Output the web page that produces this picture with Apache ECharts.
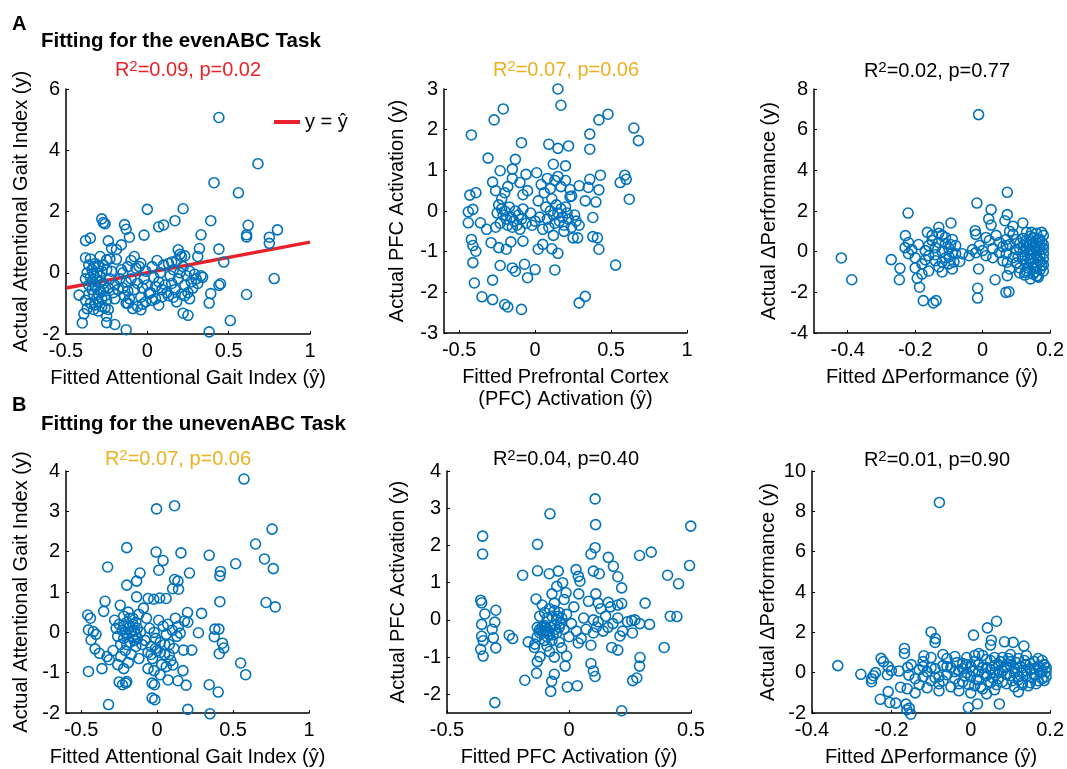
<!DOCTYPE html>
<html><head><meta charset="utf-8">
<script src="https://cdn.jsdelivr.net/npm/echarts@6/dist/echarts.min.js"></script>
<style>html,body{margin:0;padding:0;background:#fff}#c{width:1067px;height:769px}</style>
</head><body><div id="c"></div>
<script>
const FONT = '"Liberation Sans", Arial, Helvetica, sans-serif';
const BLUE = '#0072BD', RED = '#e8222a', ORANGE = '#EDB120';

// ---------- data: [fitted (x), actual (y)] ----------
const evenGaitPts = [
[0.44,5.07],[0.68,3.56],[0.41,2.94],[0.56,2.61],[0.22,2.09],[0.00,2.07],[0.17,1.70],[0.39,1.70],[-0.28,1.76],[-0.27,1.64],[-0.26,1.60],[-0.14,1.57],[-0.13,1.42],[-0.11,1.16],[-0.02,1.23],[0.07,1.50],[0.10,1.56],[0.33,1.24],[0.62,1.55],[0.61,1.24],[0.61,1.17],[0.75,1.16],[0.80,1.40],[0.75,0.96],[0.78,-0.19],[0.61,-0.71],[0.51,-1.56],[0.38,-1.93],[-0.13,-1.86],[-0.20,-1.69],[-0.25,-1.63],[-0.25,-1.42],[-0.40,-1.64],[-0.39,-1.34],[-0.37,-1.17],[-0.42,-0.73],[0.22,-1.32],[0.25,-1.39],[0.38,-0.99],[0.39,-0.68],[0.44,-0.41],[0.45,-0.36],[0.47,0.35],[0.44,0.77],[0.32,0.79],[0.31,0.53],[0.21,0.53],[0.19,0.75],[0.23,0.55],[-0.35,1.13],[-0.38,1.05],[-0.24,1.04],[-0.22,0.80],[-0.19,0.76],[-0.16,0.91],[-0.38,0.49],[-0.08,0.53],[-0.19,0.44],[-0.29,0.53],[-0.25,0.42],[-0.04,0.31],[-0.09,-1.17],[-0.04,-1.21],[-0.03,-1.03],[0.01,-0.68],[0.03,-0.90],[0.07,-1.06],[0.09,-0.79],[-0.13,-0.99],
[-0.36,0.25],[-0.34,0.10],[-0.33,-0.05],[-0.35,-0.15],[-0.32,0.30],[-0.30,0.20],[-0.31,-0.25],[-0.29,-0.10],[-0.28,0.05],[-0.36,-0.40],[-0.34,-0.55],[-0.33,-0.70],[-0.31,-0.85],[-0.30,-0.95],[-0.32,-1.05],[-0.29,-0.60],[-0.27,-0.35],[-0.26,-0.75],[-0.28,-1.10],[-0.25,-0.90],[-0.24,-0.50],[-0.23,-0.20],[-0.22,0.05],[-0.21,-0.65],[-0.20,-0.40],[-0.27,0.25],[-0.25,0.10],[-0.23,0.45],[-0.38,-0.90],[-0.37,0.00],[-0.38,-0.20],[-0.35,-1.00],[-0.33,-1.20],[-0.30,-1.25],[-0.26,-1.15],[-0.24,-1.20],[-0.20,-0.85],[-0.18,-0.55],[-0.17,-0.20],[-0.16,0.10],
[-0.34,-0.30],[-0.32,-0.45],[-0.30,-0.70],[-0.28,-0.85],[-0.33,0.20],[-0.31,0.00],[-0.27,-0.55],[-0.29,-0.30],[-0.36,-0.70],[-0.35,0.45],
[-0.15,-0.50],[-0.14,-0.75],[-0.13,-0.30],[-0.12,-0.60],[-0.12,-1.00],[-0.11,-0.85],[-0.10,0.40],[-0.10,-0.20],[-0.08,-0.55],[-0.07,0.15],[-0.06,-0.35],[-0.05,0.20],[-0.04,-0.80],[-0.03,-0.50],[-0.02,-0.20],[-0.01,0.05],[0.00,-0.40],[0.02,-0.65],[0.03,0.20],[0.04,-0.15],[0.05,-0.45],[0.06,0.40],[0.07,-0.30],[0.08,0.00],[0.09,-0.55],[0.10,0.25],[0.11,-0.40],[0.12,-0.65],[-0.15,0.00],[-0.12,0.20],[-0.06,-1.10],[-0.01,-0.95],[0.05,-0.85],
[0.13,0.30],[0.14,-0.10],[0.15,-0.35],[0.16,0.10],[0.17,-0.55],[0.18,0.40],[0.19,-0.20],[0.20,0.00],[0.21,-0.70],[0.22,0.20],[0.23,-0.40],[0.24,-0.10],[0.25,-0.65],[0.26,0.05],[0.27,-0.30],[0.28,-0.50],[0.29,-0.05],[0.30,-0.20],[0.31,-0.35],[0.33,-0.10],[0.34,-0.15],[0.16,-0.80],[0.18,-0.95],[0.13,-0.75],[0.20,0.60],[0.15,0.35],[0.26,-0.85],[0.23,-0.75]
];
const evenPfcPts = [
[0.15,3.00],[0.17,2.60],[-0.21,2.51],[-0.27,2.24],[0.48,2.38],[0.42,2.24],[-0.42,1.87],[0.36,1.89],[0.65,2.04],[0.68,1.73],[-0.09,1.68],[0.09,1.64],[0.15,1.54],[0.22,1.60],[0.36,1.52],[-0.31,1.30],[-0.13,1.27],[0.12,1.15],[0.20,1.11],[0.01,0.94],[-0.15,1.03],[-0.23,0.99],[-0.28,0.71],[0.36,0.78],[0.43,0.88],[0.59,0.88],[0.60,0.78],[0.56,0.70],[0.62,0.29],[-0.43,0.39],[-0.39,0.45],[-0.44,-0.02],[-0.41,0.04],[-0.44,-0.29],[-0.36,-0.29],[-0.42,-0.70],[-0.41,-0.85],[-0.39,-0.99],[-0.41,-1.27],[-0.40,-1.77],[-0.28,-1.70],[-0.35,-2.11],[-0.28,-2.18],[-0.20,-2.30],[-0.18,-2.36],[-0.09,-2.42],[-0.23,-1.34],[-0.15,-1.40],[-0.13,-1.48],[-0.07,-1.31],[-0.05,-1.64],[0.00,-1.44],[0.13,-1.45],[0.53,-1.33],[0.29,-2.26],[0.33,-2.10],[0.15,-1.04],[0.11,-0.93],[0.02,-0.94],[0.05,-0.82],[0.42,-0.94],[0.38,-0.63],[0.41,-0.66],[0.38,-0.16],[0.33,0.25],[0.40,0.22],[0.42,0.52],[0.35,0.58],[0.25,-0.66],[0.28,-0.66],[0.29,-0.35],[0.29,0.62],[0.24,0.37],[0.23,0.53],[-0.16,-0.76],[-0.08,-0.74],[-0.24,-0.90],[-0.19,-0.94],[-0.29,-0.78],[-0.32,-0.45],
[-0.22,0.05],[-0.21,-0.10],[-0.20,0.00],[-0.19,-0.20],[-0.23,-0.30],[-0.18,-0.35],[-0.17,0.10],[-0.16,-0.15],[-0.15,-0.40],[-0.14,-0.25],[-0.13,0.00],[-0.25,-0.05],[-0.26,-0.40],[-0.24,0.15],[-0.12,-0.35],[-0.11,-0.10],[-0.10,-0.45],[-0.09,-0.20],[-0.08,0.05],[-0.06,-0.30],[-0.05,0.50],[-0.03,-0.05],[-0.02,-0.35],[0.00,-0.25],[0.02,0.25],[0.03,-0.15],[-0.20,0.45],[-0.18,0.60],[-0.15,0.80],[-0.10,0.70],[-0.08,0.40],[-0.06,0.90],[-0.26,0.50],[-0.22,0.30],
[0.07,0.10],[0.08,-0.20],[0.09,-0.40],[0.10,0.00],[0.11,0.30],[0.12,-0.10],[0.13,-0.30],[0.14,0.15],[0.15,-0.05],[0.16,-0.25],[0.17,0.05],[0.18,-0.15],[0.19,-0.35],[0.20,0.10],[0.21,-0.05],[0.22,-0.20],[0.23,0.35],[0.24,-0.40],[0.26,-0.10],[0.27,-0.25],[0.10,0.55],[0.13,0.75],[0.15,0.85],[0.17,0.60],[0.04,0.65],[0.06,0.45],[0.08,0.80],[0.20,0.75],[0.12,-0.60],[0.05,-0.45],[0.19,-0.50]
];
const evenPerfPts = [
[-0.012,6.74],[0.073,2.92],[-0.017,2.39],[0.025,2.07],[-0.221,1.90],[0.073,1.82],[0.018,1.61],[0.066,1.52],[0.119,1.41],[-0.094,1.41],[0.025,1.31],[-0.022,1.03],[-0.130,1.20],[-0.164,0.95],[-0.229,0.79],[-0.419,-0.31],[-0.388,-1.38],[-0.271,-0.39],[-0.245,-0.82],[-0.247,-1.38],[-0.194,-1.31],[-0.187,-1.75],[-0.176,-2.41],[-0.146,-2.52],[-0.138,-2.41],[-0.015,-1.80],[-0.015,-2.28],[-0.012,-0.85],[0.037,-1.38],[0.069,-2.00],[0.078,-1.97],[0.073,-1.18],[0.073,-0.52],[-0.068,-0.48],[0.126,-1.02],[0.142,-1.34],[0.162,-1.18],
[-0.23,0.20],[-0.22,-0.10],[-0.21,0.10],[-0.20,-0.30],[-0.19,0.35],[-0.18,-0.60],[-0.17,0.05],[-0.16,-0.20],[-0.15,0.55],[-0.14,-0.45],[-0.14,0.20],[-0.13,-0.75],[-0.12,0.80],[-0.12,0.00],[-0.11,-0.30],[-0.11,0.40],[-0.10,-0.60],[-0.10,0.15],[-0.09,-0.85],[-0.09,0.60],[-0.08,-0.10],[-0.13,0.90],[-0.16,-0.95],[-0.18,-1.10],[-0.20,-0.80],[-0.22,0.45],[-0.08,0.30],[-0.12,-1.00],[-0.15,0.80],[-0.06,-0.10],
[-0.13,0.45],[-0.12,-0.50],[-0.11,0.70],[-0.10,-0.25],[-0.095,0.35],[-0.09,-0.05],[-0.085,-0.50],[-0.14,-0.15],[-0.16,0.30],[-0.17,-0.40],
[-0.04,-0.20],[-0.03,0.10],[-0.02,-0.05],[-0.01,0.30],[0.00,0.05],[0.01,-0.20],[0.02,0.55],[0.03,0.15],[0.04,0.80],[0.05,-0.05],[0.05,0.45],[-0.02,0.85],[0.01,0.70],[0.03,-0.30],
[0.06,0.25],[0.07,-0.10],[0.07,0.60],[0.08,1.00],[0.08,0.35],[0.09,-0.30],[0.09,0.85],[0.10,0.10],[0.10,-0.55],[0.11,0.40],[0.11,-0.80],[0.12,0.00],[0.12,0.65],[0.12,-0.35],[0.13,0.20],[0.13,-0.60],[0.13,-0.95],[0.14,0.45],[0.14,-0.15],[0.14,-0.45],[0.15,0.05],[0.15,0.70],[0.15,-0.75],[0.15,-1.10],[0.16,-0.25],[0.16,0.30],[0.16,0.90],[0.17,-0.50],[0.17,0.10],[0.17,0.60],[0.17,-0.90],[0.18,-0.10],[0.18,0.35],[0.18,0.80],[0.18,-0.35],[0.18,-0.65],[0.16,-1.20],[0.13,0.95],[0.11,-1.05],[0.10,0.60],[0.09,1.25],[0.07,0.30],[0.06,-0.45],[0.08,-0.85],
[0.12,0.30],[0.125,-0.20],[0.13,0.55],[0.135,-0.80],[0.14,0.10],[0.14,0.75],[0.145,-0.35],[0.15,0.40],[0.15,-0.55],[0.155,0.20],[0.16,-0.70],[0.16,0.05],[0.165,0.60],[0.165,-0.40],[0.17,0.25],[0.17,-0.15],[0.175,0.45],[0.175,-0.70],[0.18,0.15],[0.18,-0.95],[0.175,0.95],[0.155,-1.00],[0.145,0.95],[0.165,-1.25],[0.125,-1.15],[0.13,0.40],[0.11,0.15],[0.105,-0.25]
];
const unevenGaitPts = [
[0.572,3.80],[-0.004,3.06],[0.115,3.14],[0.757,2.56],[0.648,2.19],[-0.200,2.10],[-0.007,1.99],[0.157,1.97],[0.343,1.91],[-0.326,1.62],[0.039,1.78],[0.707,1.82],[0.765,1.58],[0.517,1.70],[0.011,1.54],[0.417,1.51],[0.413,1.40],[0.213,1.47],[-0.113,1.47],[-0.135,1.27],[-0.200,1.17],[0.115,1.31],[0.137,1.27],[0.102,1.08],[0.141,1.07],[-0.135,0.88],[-0.059,0.84],[-0.022,0.82],[0.017,0.85],[0.059,0.84],[0.413,0.76],[0.717,0.74],[0.778,0.63],[-0.343,0.77],[-0.352,0.52],[-0.243,0.67],[-0.457,0.43],[-0.439,0.35],[-0.452,0.06],[-0.420,0.02],[-0.402,-0.05],[-0.435,-0.19],[-0.409,-0.41],[-0.380,-0.52],[-0.452,-0.97],[-0.363,-0.90],[-0.315,-0.68],[-0.330,-0.60],[-0.320,-1.79],[-0.033,-1.63],[-0.015,-1.67],[-0.250,-1.23],[-0.228,-1.30],[-0.207,-1.26],[-0.200,-1.22],[-0.033,-1.26],[-0.017,-1.30],[0.072,-1.18],[0.191,-1.31],[0.202,-1.91],[0.348,-2.02],[0.343,-1.30],[0.402,-1.48],[0.550,-0.76],[0.583,-1.05],[0.409,-0.53],[0.439,-0.39],[0.430,-0.27],[0.407,0.08],[0.380,0.08],[0.376,-0.11],[0.293,0.47],[0.272,-0.01],[0.200,0.49],[0.180,0.28],[0.152,-0.02],[0.202,0.25],[0.174,-0.44],[0.228,-0.44],[0.170,-0.95],[0.137,-1.20],[0.104,-0.81],
[-0.28,0.30],[-0.27,0.10],[-0.26,-0.10],[-0.25,0.20],[-0.24,-0.30],[-0.23,0.05],[-0.22,0.40],[-0.22,-0.15],[-0.21,-0.45],[-0.20,0.25],[-0.20,-0.05],[-0.19,0.50],[-0.18,-0.25],[-0.18,0.15],[-0.17,-0.55],[-0.16,0.35],[-0.16,-0.10],[-0.15,0.05],[-0.14,-0.35],[-0.14,0.25],[-0.13,-0.15],[-0.12,0.45],[-0.12,-0.65],[-0.11,0.00],[-0.10,-0.30],[-0.24,-0.60],[-0.26,-0.80],[-0.22,-0.90],[-0.19,-0.75],[-0.29,-0.45],
[-0.21,0.00],[-0.19,0.10],[-0.17,0.00],[-0.15,-0.20],[-0.13,0.10],[-0.20,-0.30],[-0.18,0.35],[-0.16,0.20],[-0.22,0.15],[-0.14,-0.05],
[-0.08,-0.20],[-0.07,0.35],[-0.06,-0.50],[-0.05,0.10],[-0.04,-0.35],[-0.03,-0.65],[-0.02,0.00],[-0.01,-0.15],[0.00,-0.45],[0.01,0.30],[0.02,-0.25],[0.03,-0.80],[0.04,0.15],[0.05,-0.55],[0.06,-0.05],[0.07,0.20],[0.08,-0.30],[0.09,-0.70],[0.10,0.05],[0.11,-0.40],[0.12,0.35],[-0.06,-0.90],[-0.02,-0.95],[0.02,-1.05],[0.06,-0.85],[0.13,-0.10],[0.14,0.15],[-0.09,0.60],
[-0.04,-0.55],[-0.01,-0.40],[0.02,-0.50],[0.05,-0.30],[0.08,-0.55]
];
const unevenPfcPts = [
[0.107,3.25],[-0.078,2.85],[0.109,2.56],[0.499,2.52],[-0.354,2.25],[-0.354,1.77],[-0.129,2.03],[0.107,1.94],[0.090,1.77],[0.289,1.73],[0.337,1.82],[0.161,1.68],[0.494,1.46],[0.182,1.44],[0.404,1.20],[0.449,0.97],[-0.190,1.20],[-0.129,1.32],[-0.081,1.24],[-0.044,1.31],[0.029,1.35],[0.038,1.17],[0.045,1.04],[0.100,1.31],[0.124,1.24],[0.200,1.16],[0.216,0.86],[-0.026,1.00],[-0.012,0.73],[-0.135,0.56],[-0.362,0.53],[-0.358,0.46],[-0.300,0.26],[-0.345,0.16],[-0.358,-0.12],[-0.304,-0.06],[-0.315,-0.25],[-0.358,-0.44],[-0.352,-0.56],[-0.362,-0.79],[-0.352,-0.97],[-0.310,-0.48],[-0.300,-0.75],[-0.304,-2.22],[-0.245,-0.41],[-0.231,-0.50],[-0.167,-0.59],[-0.142,-0.74],[-0.130,-1.12],[-0.133,-1.43],[-0.181,-1.62],[-0.119,-0.99],[-0.071,-1.65],[-0.075,-1.92],[-0.060,-1.46],[-0.007,-1.80],[0.034,-1.77],[-0.016,-1.24],[-0.010,-0.97],[0.090,-1.17],[0.100,-1.37],[0.107,-1.52],[0.216,-2.44],[0.261,-1.63],[0.278,-1.56],[0.289,-1.24],[0.291,-1.01],[0.200,-0.81],[0.175,-0.74],[0.390,-0.74],[0.415,0.10],[0.442,0.09],[0.330,-0.12],[0.312,0.45],[0.257,-0.02],[0.209,-0.43],[0.216,0.44],[0.161,0.47],[0.090,-0.68],[0.113,-0.19],[0.038,-0.62],
[-0.12,-0.25],[-0.11,-0.20],[-0.10,-0.30],[-0.10,-0.15],[-0.09,-0.25],[-0.09,0.05],[-0.08,-0.40],[-0.08,0.30],[-0.07,-0.55],[-0.07,0.10],[-0.06,-0.15],[-0.06,0.45],[-0.05,-0.35],[-0.05,0.00],[-0.04,0.20],[-0.04,-0.60],[-0.03,0.05],[-0.02,-0.25],[-0.02,0.55],[-0.01,0.15],[0.00,-0.45],[0.01,-0.10],[0.02,0.35],[0.03,-0.30],[0.04,0.70],[-0.11,0.40],[-0.13,-0.45],[-0.12,0.10],[-0.09,-0.70],[-0.07,0.70],[-0.05,0.90],[-0.08,-0.85],[-0.10,-0.55],[-0.14,-0.65],[-0.06,-1.00],[-0.03,-0.75],[0.05,-0.50],[0.06,0.05],[0.07,-0.25],[0.08,0.50],[0.10,0.00],[0.12,-0.05],[0.13,0.30],[0.14,-0.30],[0.15,0.10],[0.16,-0.20],[0.17,0.35],[0.11,0.70],[0.12,0.45],[0.10,-0.35],[0.18,-0.10],[0.20,0.05],[0.22,-0.30],[0.24,-0.05],[0.26,-0.35],[0.27,0.00],[0.29,-0.10],[0.20,0.40],
[-0.115,-0.30],[-0.105,-0.35],[-0.095,-0.20],[-0.085,-0.30],[-0.075,-0.20],[-0.065,-0.40],[-0.055,-0.25],[-0.045,0.10],[-0.035,-0.10],[-0.09,-0.45],[-0.10,0.20],[-0.13,-0.20],[-0.12,-0.35],[-0.06,0.25],[-0.04,-0.20]
];
const unevenPerfPts = [
[-0.079,8.44],[-0.335,0.35],[0.065,2.55],[0.042,2.22],[-0.100,2.02],[0.007,1.86],[-0.089,1.69],[-0.090,1.50],[0.052,1.61],[0.050,1.37],[0.085,1.53],[0.107,1.50],[0.134,1.32],[-0.167,1.20],[-0.167,0.95],[-0.118,0.84],[-0.226,0.71],[-0.277,-0.08],[-0.208,0.30],[-0.228,-1.32],[-0.208,-0.94],[-0.204,-1.48],[-0.189,-1.51],[-0.177,-0.72],[-0.163,-1.56],[-0.155,-1.76],[-0.151,-2.06],[-0.161,-1.84],[-0.181,0.08],[-0.159,0.26],[-0.156,-0.12],[-0.006,-1.73],[0.017,-1.55],[0.072,-1.55],[0.185,-0.39],[0.185,0.38],
[-0.15,0.40],[-0.14,-0.30],[-0.13,0.15],[-0.13,-0.60],[-0.12,0.55],[-0.12,-0.20],[-0.11,0.05],[-0.11,-0.75],[-0.10,-0.40],[-0.09,0.20],[-0.08,-0.55],[-0.07,0.35],[-0.06,-0.10],[-0.06,0.70],[-0.05,-0.70],[-0.05,0.25],[-0.04,0.80],[-0.04,-0.30],[-0.03,0.10],[-0.03,-0.90],[-0.02,0.45],[-0.02,-0.45],[-0.01,0.00],[-0.01,0.75],[0.00,-0.20],[0.00,0.30],[0.01,-0.65],[0.01,0.55],[0.02,0.05],[0.02,-0.35],[0.03,0.85],[0.03,-0.80],[0.04,0.25],[0.04,-0.15],[0.05,0.60],[0.05,-0.50],[0.06,0.00],[0.06,-0.85],[0.07,0.40],[0.07,-0.30],[0.08,0.75],[0.08,0.10],[0.09,-0.55],[0.09,0.30],[0.10,-0.15],[0.10,0.55],[0.11,-0.70],[0.11,0.20],[0.12,-0.35],[0.12,0.70],[0.13,0.00],[0.13,-0.60],[0.14,0.40],[0.14,-0.20],[0.15,0.15],[0.15,-0.50],[0.16,0.55],[0.16,-0.10],[0.17,0.30],[0.17,-0.40],[0.18,0.05],[0.18,0.60],[0.19,-0.20],[0.19,0.25],[-0.16,-0.80],[-0.14,-1.00],[-0.08,-0.90],[0.00,-1.00],[0.04,-1.05],[0.12,-0.95],[-0.07,0.90],[0.02,0.95],[0.10,0.90],[-0.10,0.75],[-0.12,0.30],[-0.08,-0.20],[0.06,0.35],[0.14,0.85],
[-0.25,-0.30],[-0.245,-0.15],[-0.24,0.00],[-0.25,-0.45],[-0.21,-0.10],[-0.20,0.10],[-0.22,0.55],
[-0.04,0.05],[-0.035,0.50],[-0.03,-0.55],[-0.02,0.20],[-0.015,-0.15],[-0.01,0.40],[-0.005,-0.60],[0.005,0.10],[0.01,0.85],[0.015,-0.35],[0.02,0.40],[0.025,-0.70],[0.03,0.25],[0.035,-0.05],[0.04,0.65],[0.045,-0.45],[0.05,0.15],[0.055,-0.25],[0.06,0.75],[0.065,-0.60],[0.07,0.05],[0.075,0.55],[0.08,-0.45],[0.085,0.25],[0.09,-0.10],[0.095,0.70],[0.10,0.35],[0.105,-0.40],[0.11,0.00],[0.115,0.50],[0.12,-0.20],[0.125,0.30],[0.13,-0.50],[0.135,0.60],[0.14,0.10],[0.145,-0.65],[0.15,0.45],[0.155,-0.25],[0.16,0.20],[0.165,-0.55],[0.17,0.70],[0.175,0.00],[0.18,-0.30],[0.185,0.40],[0.19,0.05],[-0.06,0.30],[-0.07,-0.40],[-0.09,-0.25],[-0.10,0.25]
];

// identity reference line y = ŷ (panel A, gait)
const fitLineX = [-0.5, 1];
const fitLineY = [-0.5, 1];

// tick labels
const ticksGaitX = [-0.5, 0, 0.5, 1];
const ticksEvenGaitY = [-2, 0, 2, 4, 6];
const ticksEvenPfcY = [-3, -2, -1, 0, 1, 2, 3];
const ticksEvenPerfX = [-0.4, -0.2, 0, 0.2];
const ticksEvenPerfY = [-4, -2, 0, 2, 4, 6, 8];
const ticksUnevenGaitY = [-2, -1, 0, 1, 2, 3, 4];
const ticksUnevenPfcX = [-0.5, 0, 0.5];
const ticksUnevenPfcY = [-2, -1, 0, 1, 2, 3, 4];
const ticksUnevenPerfY = [-2, 0, 2, 4, 6, 8, 10];

// statistics text
const statsText = ['=0.09, p=0.02', '=0.07, p=0.06', '=0.02, p=0.77', '=0.07, p=0.06', '=0.04, p=0.40', '=0.01, p=0.90'];

const panels = [
  { pts: evenGaitPts, grid: {left: 66, top: 89, width: 244, height: 245},
    xr: [-0.5, 1], xt: ticksGaitX, yr: [-2, 6], yt: ticksEvenGaitY,
    xName: 'Fitted Attentional Gait Index (ŷ)', yName: 'Actual Attentional Gait Index (y)', yGap: 34,
    statColor: RED, statPos: [188, 70] },
  { pts: evenPfcPts, grid: {left: 444, top: 89, width: 243, height: 244},
    xr: [-0.6, 1], xt: ticksGaitX, yr: [-3, 3], yt: ticksEvenPfcY,
    xName: 'Fitted Prefrontal Cortex\n(PFC) Activation (ŷ)', yName: 'Actual PFC Activation (y)', yGap: 36,
    statColor: ORANGE, statPos: [566, 70] },
  { pts: evenPerfPts, grid: {left: 814, top: 89, width: 244, height: 244},
    xr: [-0.5, 0.2], xt: ticksEvenPerfX, yr: [-4, 8], yt: ticksEvenPerfY,
    xName: 'Fitted \u0394Performance (ŷ)', yName: 'Actual \u0394Performance (y)', yGap: 34,
    statColor: '#000', statPos: [937, 71] },
  { pts: unevenGaitPts, grid: {left: 66, top: 471, width: 243, height: 244},
    xr: [-0.6, 1], xt: ticksGaitX, yr: [-2, 4], yt: ticksUnevenGaitY,
    xName: 'Fitted Attentional Gait Index (ŷ)', yName: 'Actual Attentional Gait Index (y)', yGap: 34,
    statColor: ORANGE, statPos: [178, 459] },
  { pts: unevenPfcPts, grid: {left: 447, top: 471, width: 244, height: 244},
    xr: [-0.5, 0.5], xt: ticksUnevenPfcX, yr: [-2.5, 4], yt: ticksUnevenPfcY,
    xName: 'Fitted PFC Activation (ŷ)', yName: 'Actual PFC Activation (y)', yGap: 38,
    statColor: '#000', statPos: [566, 459] },
  { pts: unevenPerfPts, grid: {left: 812, top: 471, width: 244, height: 244},
    xr: [-0.4, 0.2], xt: ticksEvenPerfX, yr: [-2, 10], yt: ticksUnevenPerfY,
    xName: 'Fitted \u0394Performance (ŷ)', yName: 'Actual \u0394Performance (y)', yGap: 32,
    statColor: '#000', statPos: [937, 460] }
];

const axisCommon = (i, range, ticks, name, gap, isY) => ({
  type: 'value', gridIndex: i, min: range[0], max: range[1],
  name: name, nameLocation: 'middle', nameGap: gap,
  nameTextStyle: {fontSize: 20, color: '#000', fontFamily: FONT, lineHeight: 22},
  axisLine: {show: true, onZero: false, lineStyle: {color: '#000', width: 1.5}},
  axisTick: {show: true, inside: true, length: 3, customValues: ticks, lineStyle: {color: '#000', width: 1}},
  axisLabel: {customValues: ticks, fontSize: 20, color: '#000', fontFamily: FONT, margin: isY ? 6 : 7,
              formatter: v => String(Math.round(v * 10) / 10)},
  splitLine: {show: false}
});

const graphics = [
  {type: 'text', x: 12, y: 14, style: {text: 'A', font: 'bold 20px ' + FONT, fill: '#000'}},
  {type: 'text', x: 41, y: 31, style: {text: 'Fitting for the evenABC Task', font: 'bold 20.5px ' + FONT, fill: '#000'}},
  {type: 'text', x: 12, y: 395, style: {text: 'B', font: 'bold 20px ' + FONT, fill: '#000'}},
  {type: 'text', x: 41, y: 414, style: {text: 'Fitting for the unevenABC Task', font: 'bold 20.5px ' + FONT, fill: '#000'}}
];
panels.forEach((p, i) => {
  graphics.push({
    type: 'text', x: p.statPos[0], y: p.statPos[1],
    style: {
      text: '{n|R}{s|2}{n|' + statsText[i] + '}',
      align: 'center', verticalAlign: 'middle', textAlign: 'center', textVerticalAlign: 'middle',
      rich: {
        n: {fontSize: 20, fontFamily: FONT, fill: p.statColor, lineHeight: 22},
        s: {fontSize: 15, fontFamily: FONT, fill: p.statColor, lineHeight: 8, verticalAlign: 'top'}
      }
    }
  });
});

const series = panels.map((p, i) => ({
  type: 'scatter', xAxisIndex: i, yAxisIndex: i, data: p.pts,
  symbol: 'circle', symbolSize: 10, clip: false, silent: true,
  itemStyle: {color: 'rgba(0,0,0,0)', borderColor: BLUE, borderWidth: 1.6, opacity: 1}
}));
series.push({
  type: 'line', name: 'y = ŷ', xAxisIndex: 0, yAxisIndex: 0,
  data: fitLineX.map((x, k) => [x, fitLineY[k]]),
  symbol: 'none', silent: true, z: 1,
  lineStyle: {color: RED, width: 3.5}, itemStyle: {color: RED}
});

const chart = echarts.init(document.getElementById('c'), null, {renderer: 'canvas'});
chart.setOption({
  animation: false,
  backgroundColor: '#fff',
  textStyle: {fontFamily: FONT},
  grid: panels.map(p => Object.assign({containLabel: false}, p.grid)),
  xAxis: panels.map((p, i) => axisCommon(i, p.xr, p.xt, p.xName, 33, false)),
  yAxis: panels.map((p, i) => axisCommon(i, p.yr, p.yt, p.yName, p.yGap, true)),
  legend: {
    data: [{name: 'y = ŷ', icon: 'rect'}], left: 269, top: 107,
    itemWidth: 26, itemHeight: 4, itemGap: 0, selectedMode: false,
    textStyle: {fontSize: 20, color: '#000', fontFamily: FONT}
  },
  graphic: graphics,
  series: series
});
</script></body></html>
